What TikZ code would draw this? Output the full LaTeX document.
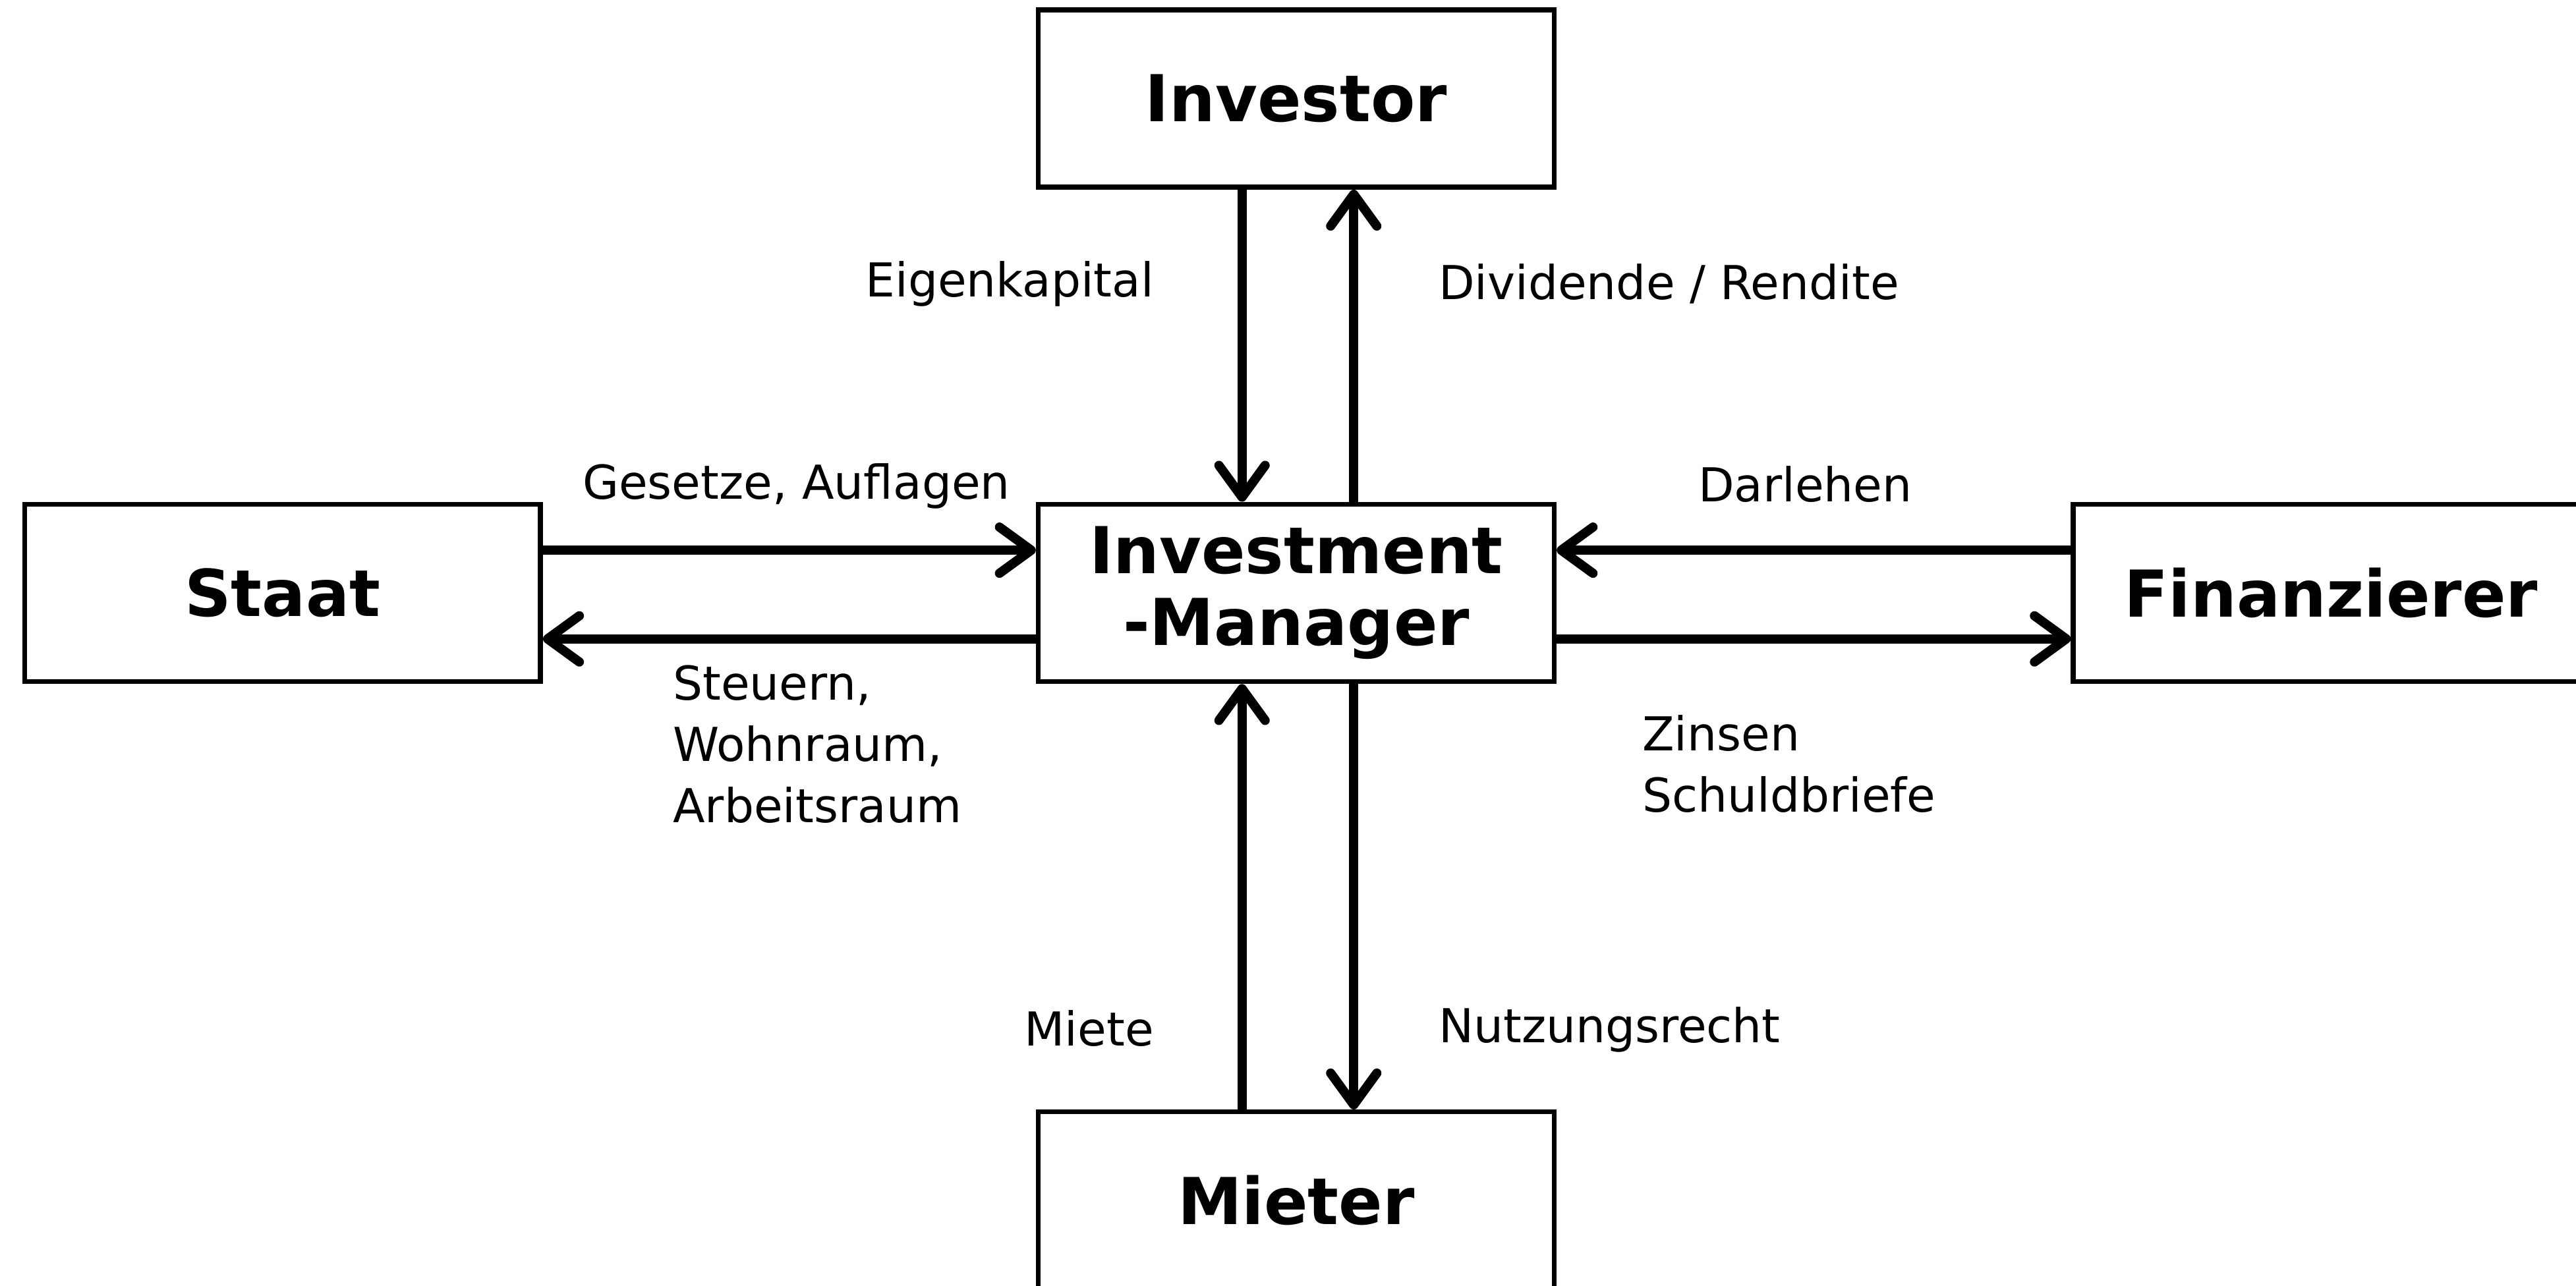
\documentclass[tikz,border=0pt]{standalone}
\usepackage{fontspec}
\setmainfont{DejaVu Sans}
\usetikzlibrary{arrows.meta}
\newcommand{\boxfont}{\fontsize{11.2}{12.5}\selectfont\bfseries}
\newcommand{\lblfont}{\fontsize{8.1}{10.6}\selectfont}

\begin{document}
\begin{tikzpicture}[
    box/.style={draw, line width=0.85pt, minimum width=3.14cm, minimum height=1.08cm,
        inner sep=0pt, align=center, font=\boxfont},
    flow/.style={line width=1.6pt, -{Straight Barb[length=5.5pt,width=8pt,round]}},
    lbl/.style={inner sep=0pt, align=left, font=\lblfont}]
    \clip (0,0) rectangle (15.68,-7.83);
    % the five parties
    \node[box] (im) at (7.89,-3.61) {\raisebox{-0.5ex}{}Investment\\-Manager};
    \node[box] (inv) at (7.89,-0.60) {Investor};
    \node[box] (staat) at (1.72,-3.61) {Staat};
    \node[box] (fin) at (14.19,-3.61) {Finanzierer};
    \node[box] (mieter) at (7.89,-7.31) {Mieter};
    % flows
    \draw[flow] ([xshift=-0.33cm]inv.south) -- ([xshift=-0.33cm]im.north);
    \draw[flow] ([xshift=0.35cm]im.north) -- ([xshift=0.35cm]inv.south);
    \draw[flow] ([yshift=0.26cm]staat.east) -- ([yshift=0.26cm]im.west);
    \draw[flow] ([yshift=-0.28cm]im.west) -- ([yshift=-0.28cm]staat.east);
    \draw[flow] ([yshift=0.26cm]fin.west) -- ([yshift=0.26cm]im.east);
    \draw[flow] ([yshift=-0.28cm]im.east) -- ([yshift=-0.28cm]fin.west);
    \draw[flow] ([xshift=-0.33cm]mieter.north) -- ([xshift=-0.33cm]im.south);
    \draw[flow] ([xshift=0.35cm]im.south) -- ([xshift=0.35cm]mieter.north);
    % labels
    \node[lbl, anchor=east] (ek) at (7.03,-1.73) {Eigenkapital};
    \node[lbl, anchor=west] (div) at (8.75,-1.73) {Dividende / Rendite};
    \node[lbl, anchor=west] (ges) at (3.54,-2.96) {Gesetze, Auflagen};
    \node[lbl, anchor=west] (darl) at (10.33,-2.95) {Darlehen};
    \node[lbl, anchor=west] (steu) at (4.09,-4.53) {Steuern,\\Wohnraum,\\Arbeitsraum};
    \node[lbl, anchor=west] (zins) at (9.99,-4.65) {Zinsen\\Schuldbriefe};
    \node[lbl, anchor=east] (miete) at (7.03,-6.26) {Miete};
    \node[lbl, anchor=west] (nutz) at (8.75,-6.27) {Nutzungsrecht};
\end{tikzpicture}
\end{document}
